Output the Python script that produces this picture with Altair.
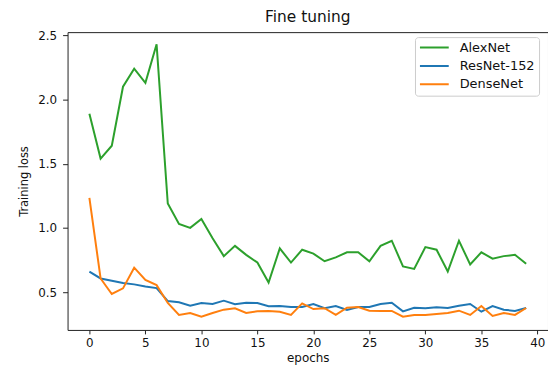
import altair as alt
import pandas as pd

epochs = list(range(40))
series_names = ["AlexNet", "ResNet-152", "DenseNet"]
series_colors = ["#2ca02c", "#1f77b4", "#ff7f0e"]

alexnet = [1.89, 1.54, 1.64, 2.10, 2.24, 2.13, 2.43, 1.19, 1.03, 1.00,
           1.07, 0.92, 0.78, 0.86, 0.79, 0.73, 0.575, 0.84, 0.73, 0.83,
           0.80, 0.74, 0.77, 0.81, 0.81, 0.74, 0.86, 0.90, 0.70, 0.68,
           0.85, 0.83, 0.66, 0.90, 0.715, 0.81, 0.76, 0.78, 0.79, 0.72]
resnet = [0.66, 0.606, 0.588, 0.57, 0.56, 0.544, 0.531, 0.43, 0.42, 0.394,
          0.415, 0.407, 0.433, 0.405, 0.417, 0.415, 0.389, 0.391, 0.384, 0.384,
          0.407, 0.374, 0.391, 0.36, 0.384, 0.384, 0.407, 0.417, 0.35, 0.378,
          0.374, 0.381, 0.376, 0.394, 0.407, 0.347, 0.391, 0.363, 0.353, 0.376]
densenet = [1.234, 0.606, 0.485, 0.529, 0.69, 0.595, 0.554, 0.415, 0.322, 0.337,
            0.308, 0.337, 0.363, 0.374, 0.337, 0.35, 0.353, 0.347, 0.322, 0.412,
            0.368, 0.374, 0.322, 0.378, 0.384, 0.355, 0.353, 0.353, 0.308, 0.322,
            0.322, 0.329, 0.337, 0.355, 0.322, 0.391, 0.314, 0.337, 0.322, 0.376]

x_ticks = [0, 5, 10, 15, 20, 25, 30, 35, 40]
y_ticks = [0.5, 1.0, 1.5, 2.0, 2.5]

rows = []
for name, vals in zip(series_names, [alexnet, resnet, densenet]):
    for e, v in zip(epochs, vals):
        rows.append({"epoch": e, "loss": v, "model": name})
df = pd.DataFrame(rows)

x_enc = alt.X("epoch:Q",
              scale=alt.Scale(domain=[-1.95, 40.95], nice=False, zero=False),
              axis=alt.Axis(values=x_ticks, title="epochs", format="d",
                            tickSize=4, labelPadding=4, titlePadding=4))
y_enc = alt.Y("loss:Q",
              scale=alt.Scale(domain=[0.205, 2.525], nice=False, zero=False),
              axis=alt.Axis(values=y_ticks, title="Training loss", format=".1f",
                            tickSize=5, labelPadding=6, titlePadding=8,
                            titleFontSize=11.5))
color_enc = alt.Color("model:N",
                      scale=alt.Scale(domain=series_names, range=series_colors),
                      legend=alt.Legend(title=None, orient="none", legendX=350, legendY=5,
                                        symbolType="stroke", symbolSize=841,
                                        symbolStrokeWidth=2, clipHeight=13,
                                        rowPadding=4.5, labelOffset=10,
                                        labelFontSize=13, labelColor="#111",
                                        padding=4, strokeColor="#cccccc",
                                        fillColor="white", cornerRadius=3))

layers = []
for name in series_names:
    layers.append(
        alt.Chart(df).transform_filter(alt.datum.model == name)
        .mark_line(strokeWidth=2)
        .encode(x=x_enc, y=y_enc, color=color_enc)
    )

chart = alt.layer(*layers).properties(
    width=484, height=300,
    title=alt.TitleParams("Fine tuning", fontSize=15.5, fontWeight="normal",
                          offset=4, anchor="middle", color="#111"),
    padding={"left": 60, "top": 23, "right": 0, "bottom": 34},
    autosize=alt.AutoSizeParams(type="none"),
).configure(font="DejaVu Sans").configure_view(
    stroke="#222", strokeWidth=1
).configure_axis(
    grid=False, domain=False, tickColor="#222", tickWidth=1,
    labelFontSize=12, labelColor="#111",
    titleFontSize=12, titleFontWeight="normal", titleColor="#111",
    labelFont="DejaVu Sans", titleFont="DejaVu Sans"
)

chart.save("out.html", embed_options={"renderer": "svg", "actions": False})
